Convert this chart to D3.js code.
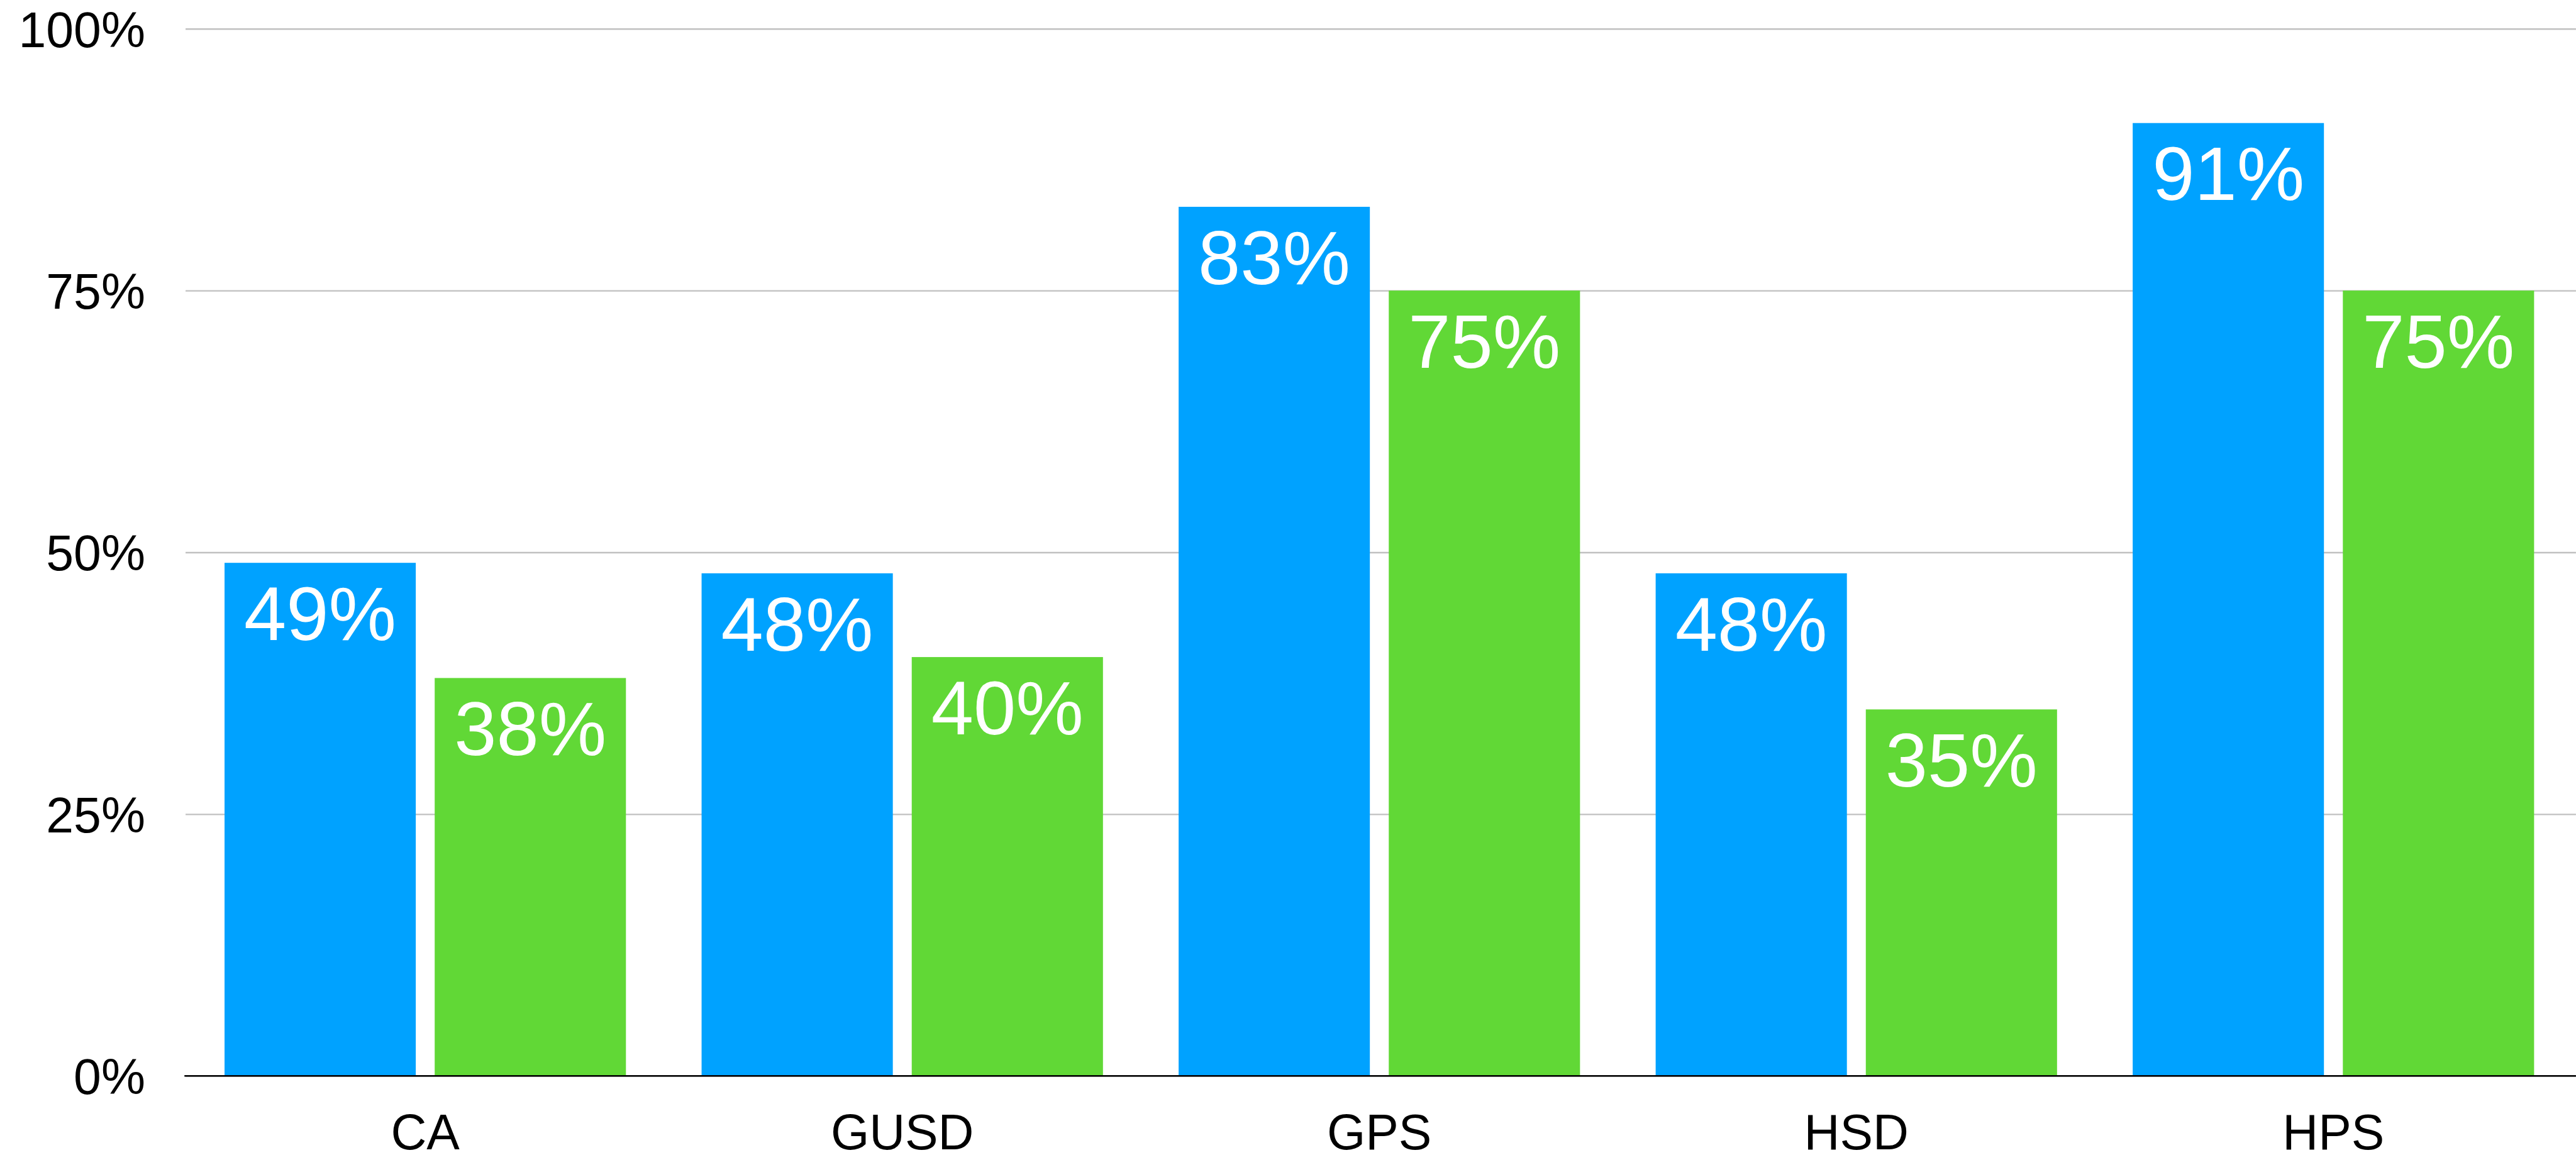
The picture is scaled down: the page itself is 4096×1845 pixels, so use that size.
<!DOCTYPE html>
<html>
<head>
<meta charset="utf-8">
<script src="https://cdn.jsdelivr.net/npm/d3@7"></script>
<style>
  html, body { margin: 0; padding: 0; background: #fff; overflow: hidden; }
  svg { display: block; }
</style>
</head>
<body>
<div id="chart-bar1"></div>
<script>
var categories = ["CA", "GUSD", "GPS", "HSD", "HPS"];
var seriesBlue = [49, 48, 83, 48, 91];
var seriesGreen = [38, 40, 75, 35, 75];
var yTicks = [0, 25, 50, 75, 100];
var colors = ["#00A2FF", "#61D836"];

window.onload = function () {
    // drawn in reference units (4471 x 2014), scaled down by the viewBox
    var W = 4471, H = 2014;
    var left = 322, right = W, top = 50, bottom = 1868;

    var svg = d3.select("#chart-bar1").append("svg")
        .attr("width", 4096)
        .attr("height", 1845)
        .attr("viewBox", "0 0 " + W + " " + H)
        .style("font-family", "Helvetica, 'Liberation Sans', Arial, sans-serif");

    var y = d3.scaleLinear()
        .domain([0, 100])
        .range([bottom, top]);

    var x0 = d3.scaleBand()
        .domain(categories)
        .range([324, 4464]);

    var x1 = d3.scaleBand()
        .domain([0, 1])
        .range([0, x0.bandwidth()])
        .paddingInner(0.09)
        .paddingOuter(0.18);

    // y axis + gridlines
    var yAxis = svg.append("g")
        .attr("transform", "translate(" + left + ",0)")
        .call(d3.axisLeft(y)
            .tickValues(yTicks)
            .tickFormat(function (d) { return d + "%"; })
            .tickSize(-(right - left))
            .tickPadding(70));
    yAxis.select(".domain").remove();
    yAxis.selectAll("line")
        .attr("stroke", "#c0c0c0")
        .attr("stroke-width", 2.6);
    yAxis.selectAll("text")
        .attr("fill", "#000")
        .attr("dy", "0.36em")
        .style("font-size", "86px");

    var data = categories.map(function (c, i) {
        return { cat: c, values: [seriesBlue[i], seriesGreen[i]] };
    });

    var group = svg.selectAll(".grp")
        .data(data)
        .enter().append("g")
        .attr("class", "grp")
        .attr("transform", function (d) { return "translate(" + x0(d.cat) + ",0)"; });

    var cell = group.selectAll(".cell")
        .data(function (d) { return d.values.map(function (v, k) { return { k: k, v: v }; }); })
        .enter().append("g")
        .attr("class", "cell");

    cell.append("rect")
        .attr("x", function (d) { return x1(d.k); })
        .attr("width", x1.bandwidth())
        .attr("y", function (d) { return y(d.v); })
        .attr("height", function (d) { return bottom - y(d.v); })
        .attr("fill", function (d) { return colors[d.k]; });

    cell.append("text")
        .attr("x", function (d) { return x1(d.k) + x1.bandwidth() / 2; })
        .attr("y", function (d) { return y(d.v) + 134; })
        .attr("text-anchor", "middle")
        .attr("fill", "#fff")
        .style("font-size", "132px")
        .text(function (d) { return d.v + "%"; });

    // x axis
    var xAxis = svg.append("g")
        .attr("transform", "translate(0," + bottom + ")")
        .call(d3.axisBottom(x0).tickSize(0).tickPadding(66));
    xAxis.select(".domain").remove();
    xAxis.selectAll("text")
        .attr("fill", "#000")
        .style("font-size", "86px");

    svg.append("line")
        .attr("x1", 320)
        .attr("x2", W)
        .attr("y1", bottom)
        .attr("y2", bottom)
        .attr("stroke", "#000")
        .attr("stroke-width", 2.6);
};
</script>
</body>
</html>
